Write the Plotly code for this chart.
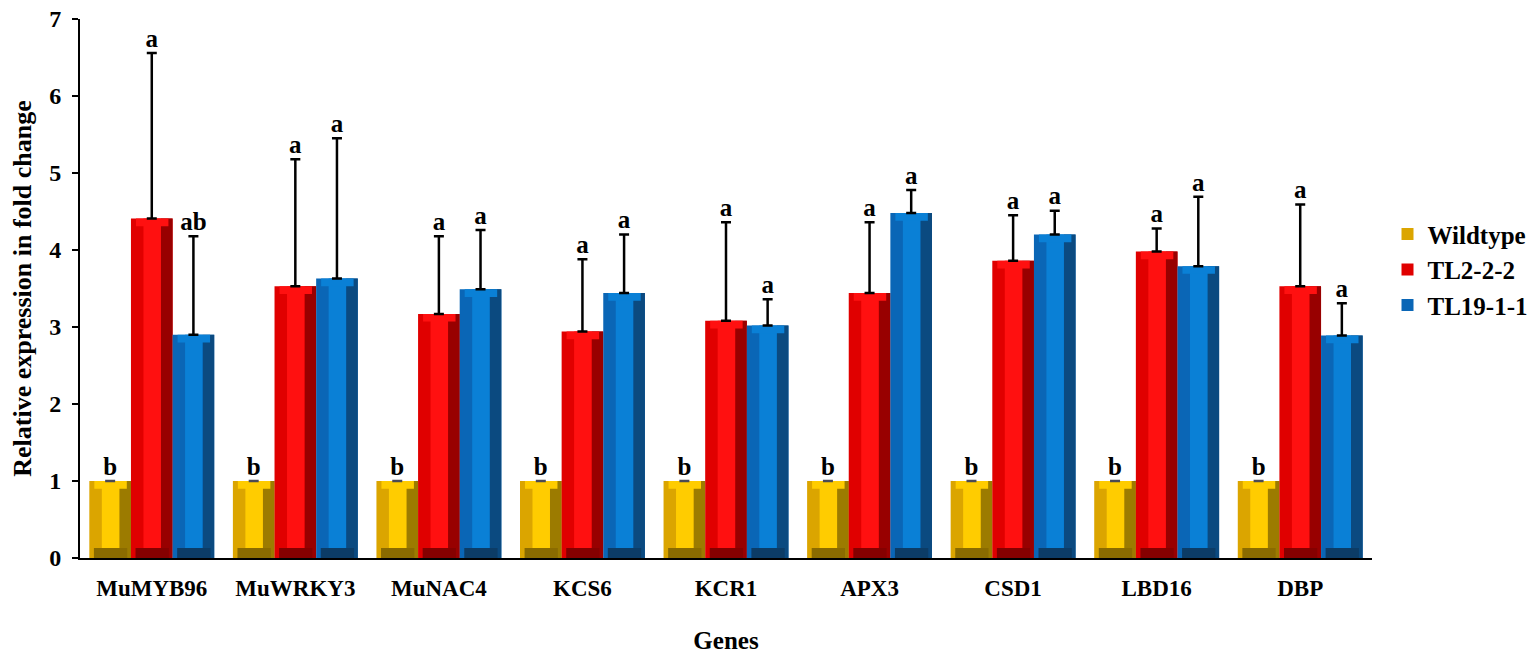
import plotly.graph_objects as go

genes = ['MuMYB96', 'MuWRKY3', 'MuNAC4', 'KCS6', 'KCR1', 'APX3', 'CSD1', 'LBD16', 'DBP']
series = ['Wildtype', 'TL2-2-2', 'TL19-1-1']

wildtype = [1, 1, 1, 1, 1, 1, 1, 1, 1]
wildtype_err = [0, 0, 0, 0, 0, 0, 0, 0, 0]
tl2 = [4.41, 3.53, 3.17, 2.94, 3.08, 3.44, 3.86, 3.98, 3.53]
tl2_err = [2.15, 1.65, 1.01, 0.94, 1.28, 0.92, 0.59, 0.30, 1.06]
tl19 = [2.90, 3.63, 3.49, 3.44, 3.02, 4.48, 4.20, 3.79, 2.89]
tl19_err = [1.28, 1.82, 0.77, 0.76, 0.34, 0.30, 0.31, 0.90, 0.42]

wildtype_sig = ['b'] * 9
tl2_sig = ['a'] * 9
tl19_sig = ['ab', 'a', 'a', 'a', 'a', 'a', 'a', 'a', 'a']

values = [wildtype, tl2, tl19]
errors = [wildtype_err, tl2_err, tl19_err]
letters = [wildtype_sig, tl2_sig, tl19_sig]

# bevel colours per series: left, centre, right, bottom
palettes = [
    ('#dba500', '#ffcc00', '#9c7b00', '#8a6b00'),
    ('#e00000', '#ff1010', '#980000', '#850000'),
    ('#0a66b6', '#0a80d6', '#0b4a80', '#0c3c66'),
]

bar_w = 0.29
offsets = [-bar_w, 0, bar_w]
font_family = 'Liberation Serif, Times New Roman, serif'

fig = go.Figure()

for k, name in enumerate(series):
    left, centre, right, bottom = palettes[k]
    xs = [i + offsets[k] for i in range(len(genes))]
    # whole bar (left bevel colour), shown in legend
    fig.add_trace(go.Bar(x=xs, y=values[k], width=bar_w, name=name,
                         marker=dict(color=left, line=dict(width=0)),
                         showlegend=True, legendgroup=name))
    # right bevel
    fig.add_trace(go.Bar(x=[x + bar_w * 0.36 for x in xs], y=values[k], width=bar_w * 0.28,
                         marker=dict(color=right, line=dict(width=0)),
                         showlegend=False, hoverinfo='skip'))
    # centre strip
    fig.add_trace(go.Bar(x=[x + bar_w * 0.01 for x in xs], y=values[k], width=bar_w * 0.42,
                         marker=dict(color=centre, line=dict(width=0)),
                         showlegend=False, hoverinfo='skip'))
    # top bevel
    fig.add_trace(go.Bar(x=[x + bar_w * 0.01 for x in xs], y=[0.1] * len(xs),
                         base=[v - 0.1 for v in values[k]], width=bar_w * 0.78,
                         marker=dict(color=centre, line=dict(width=0)),
                         showlegend=False, hoverinfo='skip'))
    # bottom bevel
    fig.add_trace(go.Bar(x=[x + bar_w * 0.01 for x in xs], y=[0.13] * len(xs), width=bar_w * 0.8,
                         marker=dict(color=bottom, line=dict(width=0)),
                         showlegend=False, hoverinfo='skip'))

# error bars and significance letters on top
for k, name in enumerate(series):
    xs = [i + offsets[k] for i in range(len(genes))]
    fig.add_trace(go.Bar(x=xs, y=values[k], width=bar_w,
                         marker=dict(color='rgba(0,0,0,0)', line=dict(width=0)),
                         error_y=dict(type='data', array=errors[k], symmetric=False,
                                      arrayminus=[0] * len(xs),
                                      color='#4a4a55' if k == 0 else 'black',
                                      thickness=2.5, width=5),
                         showlegend=False, hoverinfo='skip'))
    tops = [v + e for v, e in zip(values[k], errors[k])]
    fig.add_trace(go.Scatter(x=xs, y=tops, mode='text', text=letters[k],
                             textposition='top center',
                             textfont=dict(family=font_family, size=25, color='black', weight='bold'),
                             showlegend=False, hoverinfo='skip'))

fig.update_layout(
    width=1535, height=662,
    barmode='overlay',
    plot_bgcolor='white', paper_bgcolor='white',
    margin=dict(l=72, r=171, t=11, b=112),
    font=dict(family=font_family, color='black'),
    legend=dict(x=1.012, y=0.535, xanchor='left', yanchor='middle',
                font=dict(family=font_family, size=25, color='black', weight='bold'),
                traceorder='normal', itemsizing='constant', tracegroupgap=0),
    xaxis=dict(range=[-0.5, len(genes) - 0.5], automargin=False,
               tickvals=list(range(len(genes))),
               ticktext=['<b>%s</b>' % g for g in genes],
               tickfont=dict(family=font_family, size=23, color='black'),
               ticklabelstandoff=8,
               showline=True, linecolor='black', linewidth=2,
               ticks='', showgrid=False, zeroline=False,
               title=dict(text='<b>Genes</b>', standoff=32,
                          font=dict(family=font_family, size=25, color='black'))),
    yaxis=dict(range=[0, 7], dtick=1, automargin=False,
               tickfont=dict(family=font_family, size=24, color='black', weight='bold'),
               ticklabelstandoff=6, ticklabeloverflow='allow',
               showline=True, linecolor='black', linewidth=2,
               ticks='outside', ticklen=6, tickwidth=2, tickcolor='black',
               showgrid=False, zeroline=False,
               title=dict(text='<b>Relative expression in fold change</b>', standoff=24,
                          font=dict(family=font_family, size=26, color='black'))),
)

fig.write_html("out.html")
